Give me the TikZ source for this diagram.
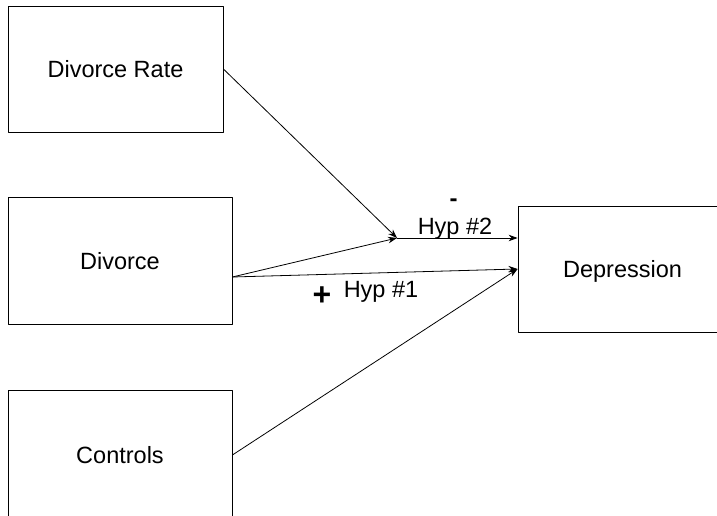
\documentclass[tikz,border=0pt]{standalone}
\usepackage{fontspec}
\setmainfont{Liberation Sans}
\usetikzlibrary{arrows.meta}

\begin{document}
\begin{tikzpicture}[x=1pt, y=1pt, line cap=round, line join=round, >={Stealth[length=9pt,width=6.5pt]},
  box/.style={draw, line width=0.8pt, rectangle, inner sep=0pt, text depth=0pt, font=\fontsize{23.5}{28}\selectfont},
  lbl/.style={inner sep=0pt, font=\fontsize{23.5}{28}\selectfont}]

\useasboundingbox (0,0) rectangle (717,516);
\clip (0,0) rectangle (717,516);

% boxes
\node[box, minimum width=215pt, minimum height=126pt] (rate) at (115.5,447) {Divorce Rate};
\node[box, minimum width=224pt, minimum height=127pt] (divorce) at (120,255.5) {Divorce};
\node[box, minimum width=224pt, minimum height=130pt] (controls) at (120,61) {Controls};
\node[box, minimum width=209pt, minimum height=126pt] (depress) at (622.5,247) {Depression};

\coordinate (hub) at (397,278);

% paths
\draw[->, line width=0.8pt] (rate.east) -- (hub);
\draw[->, line width=0.8pt] ([yshift=-16.5pt]divorce.east) -- (hub);
\draw[->, line width=0.8pt] (hub) -- ([yshift=31pt]depress.west);
\draw[->, line width=0.8pt] ([yshift=-16.5pt]divorce.east) -- (depress.west);
\draw[->, line width=0.8pt] (controls.east) -- (depress.west);

% signs
\node[lbl, font=\fontsize{24}{28}\bfseries] (minus) at (453.5,313) {-};
\node[lbl, anchor=base] (hyp2) at (455,281) {Hyp \#2};
\node[lbl, font=\fontsize{32}{36}\bfseries] (plus) at (322,220) {+};
\node[lbl, anchor=base] (hyp1) at (381,218) {Hyp \#1};
\end{tikzpicture}
\end{document}
